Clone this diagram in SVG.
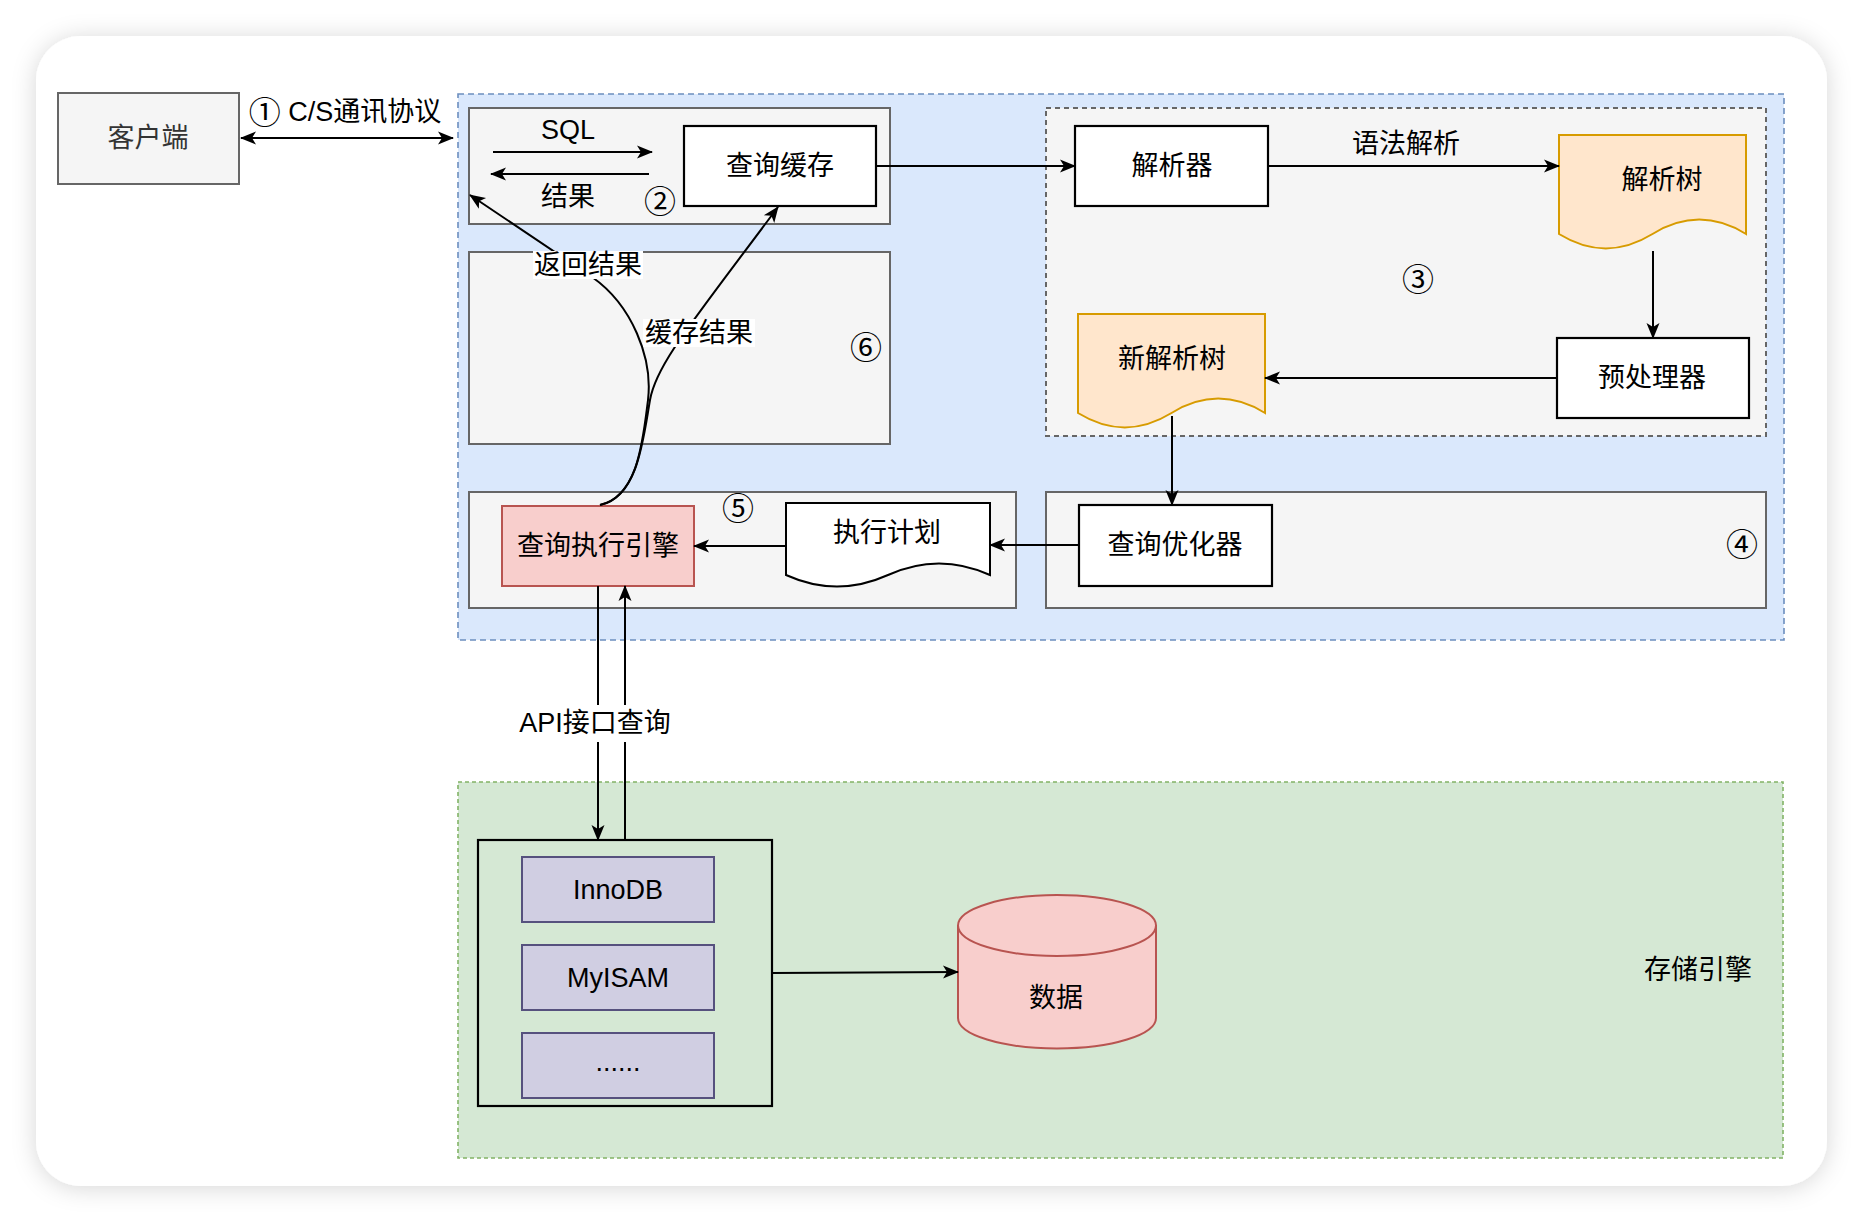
<svg xmlns="http://www.w3.org/2000/svg" width="1864" height="1222" viewBox="0 0 1864 1222">
<defs>
<filter id="shadow" x="-10%" y="-10%" width="120%" height="120%">
<feDropShadow dx="0" dy="2" stdDeviation="12" flood-color="#000" flood-opacity="0.16"/>
</filter>
<marker id="arrk" markerUnits="userSpaceOnUse" markerWidth="18" markerHeight="16" viewBox="0 0 18 16" refX="16" refY="8" orient="auto-start-reverse">
<path d="M1,1.5 L17,8 L1,14.5 L5,8 Z" fill="#000" stroke="none"/>
</marker>
</defs>
<style>
text{font-family:"Liberation Sans","Noto Sans CJK SC",sans-serif;font-size:27px;fill:#000;text-anchor:middle;dominant-baseline:central}
.num{font-family:"Noto Sans CJK SC",sans-serif;font-size:32px}
.grp{fill:#f5f5f5;stroke:#666;stroke-width:2}
.node{fill:#fff;stroke:#000;stroke-width:2.2}
.conn{fill:none;stroke:#000;stroke-width:2}
.doc{fill:#ffe6cc;stroke:#d79b00;stroke-width:2}
.eng{fill:#d0cee2;stroke:#56517e;stroke-width:2}
</style>
<rect width="1864" height="1222" fill="#fff"/>
<rect x="36" y="36" width="1791" height="1150" rx="45" fill="#fff" filter="url(#shadow)"/>

<g id="server">
<rect x="458" y="94" width="1326" height="546" fill="#dae8fc" stroke="#6c8ebf" stroke-width="1.6" stroke-dasharray="6 4"/>
</g>
<g id="storage-area">
<rect x="458" y="782" width="1325" height="376" fill="#d5e8d4" stroke="#82b366" stroke-width="1.6" stroke-dasharray="4 3"/>
<text x="1698" y="970">存储引擎</text>
</g>

<g id="client">
<rect x="58" y="93" width="181" height="91" class="grp"/>
<text x="148" y="138" style="fill:#333">客户端</text>
</g>

<g id="cache-group">
<rect x="469" y="108" width="421" height="116" class="grp"/>
<text x="568" y="130">SQL</text>
<text x="568" y="197">结果</text>
<text class="num" x="660" y="199">②</text>
</g>
<g id="query-cache">
<rect x="684" y="126" width="192" height="80" class="node"/>
<text x="780" y="166">查询缓存</text>
</g>

<g id="group6">
<rect x="469" y="252" width="421" height="192" class="grp"/>
<text class="num" x="866" y="345">⑥</text>
</g>

<g id="group3">
<rect x="1046" y="108" width="720" height="328" class="grp" stroke-dasharray="5 4"/>
<text class="num" x="1418" y="277">③</text>
</g>
<g id="parser">
<rect x="1075" y="126" width="193" height="80" class="node"/>
<text x="1172" y="166">解析器</text>
</g>
<g id="parse-tree">
<path class="doc" d="M1559,135 H1746 V234 Q1699.25,205.2 1652.5,234 Q1605.75,262.8 1559,234 Z"/>
<text x="1662" y="180">解析树</text>
</g>
<g id="preprocessor">
<rect x="1557" y="338" width="192" height="80" class="node"/>
<text x="1652" y="378">预处理器</text>
</g>
<g id="new-parse-tree">
<path class="doc" d="M1078,314 H1265 V413 Q1218.25,384.2 1171.5,413 Q1124.75,441.8 1078,413 Z"/>
<text x="1172" y="359">新解析树</text>
</g>

<g id="group4">
<rect x="1046" y="492" width="720" height="116" class="grp"/>
<text class="num" x="1742" y="542">④</text>
</g>
<g id="optimizer">
<rect x="1079" y="505" width="193" height="81" class="node"/>
<text x="1175" y="545">查询优化器</text>
</g>

<g id="group5">
<rect x="469" y="492" width="547" height="116" class="grp"/>
<text class="num" x="738" y="506">⑤</text>
</g>
<g id="exec-plan">
<path d="M786,503 H990 V575 Q939,552 888,575 Q837,598 786,575 Z" fill="#fff" stroke="#000" stroke-width="2"/>
<text x="887" y="533">执行计划</text>
</g>
<g id="exec-engine">
<rect x="502" y="506" width="192" height="80" fill="#f8cecc" stroke="#b85450" stroke-width="2"/>
<text x="598" y="546">查询执行引擎</text>
</g>

<g id="engines">
<rect x="478" y="840" width="294" height="266" fill="none" stroke="#000" stroke-width="2.2"/>
</g>
<g id="innodb">
<rect x="522" y="857" width="192" height="65" class="eng"/>
<text x="618" y="890">InnoDB</text>
</g>
<g id="myisam">
<rect x="522" y="945" width="192" height="65" class="eng"/>
<text x="618" y="978">MyISAM</text>
</g>
<g id="others">
<rect x="522" y="1033" width="192" height="65" class="eng"/>
<text x="618" y="1062">......</text>
</g>
<g id="data">
<path d="M958,925.5 A99,30.5 0 0 1 1156,925.5 V1018 A99,30.5 0 0 1 958,1018 Z" fill="#f8cecc" stroke="#b85450" stroke-width="2"/>
<path d="M958,925.5 A99,30.5 0 0 0 1156,925.5" fill="none" stroke="#b85450" stroke-width="2"/>
<text x="1056" y="998">数据</text>
</g>

<g id="connectors">
<line class="conn" x1="241" y1="138" x2="453" y2="138" marker-start="url(#arrk)" marker-end="url(#arrk)"/>
<line class="conn" x1="493" y1="152" x2="652" y2="152" marker-end="url(#arrk)"/>
<line class="conn" x1="649" y1="174" x2="491" y2="174" marker-end="url(#arrk)"/>
<line class="conn" x1="876" y1="166" x2="1075" y2="166" marker-end="url(#arrk)"/>
<line class="conn" x1="1268" y1="166" x2="1559" y2="166" marker-end="url(#arrk)"/>
<line class="conn" x1="1653" y1="251" x2="1653" y2="338" stroke="#444" marker-end="url(#arrk)"/>
<line class="conn" x1="1557" y1="378" x2="1265" y2="378" marker-end="url(#arrk)"/>
<line class="conn" x1="1172" y1="416" x2="1172" y2="505" marker-end="url(#arrk)"/>
<line class="conn" x1="1079" y1="545" x2="990" y2="545" marker-end="url(#arrk)"/>
<line class="conn" x1="786" y1="546" x2="694" y2="546" marker-end="url(#arrk)"/>
<path class="conn" d="M600,505 C638,497 643,440 648,400 C653,358 632,305 592,277 L470,195" marker-end="url(#arrk)"/>
<path class="conn" d="M600,505 C638,497 643,440 650,400 C656,365 690,325 778,207" marker-end="url(#arrk)"/>
<line class="conn" x1="598" y1="586" x2="598" y2="840" marker-end="url(#arrk)"/>
<line class="conn" x1="625" y1="840" x2="625" y2="586" stroke="#555" marker-end="url(#arrk)"/>
<line class="conn" x1="772" y1="973" x2="958" y2="972" stroke="#333" marker-end="url(#arrk)"/>
<rect x="533" y="251" width="110" height="28" fill="#fff"/>
<text x="588" y="265">返回结果</text>
<rect x="643" y="319" width="112" height="28" fill="#fff"/>
<text x="699" y="333">缓存结果</text>
<rect x="512" y="705" width="166" height="37" fill="#fff"/>
<text x="595" y="723">API接口查询</text>
<text x="345" y="112"><tspan class="num" dy="-2">①</tspan><tspan dy="2"> C/S通讯协议</tspan></text>
<text x="1406" y="144">语法解析</text>
</g>
</svg>
